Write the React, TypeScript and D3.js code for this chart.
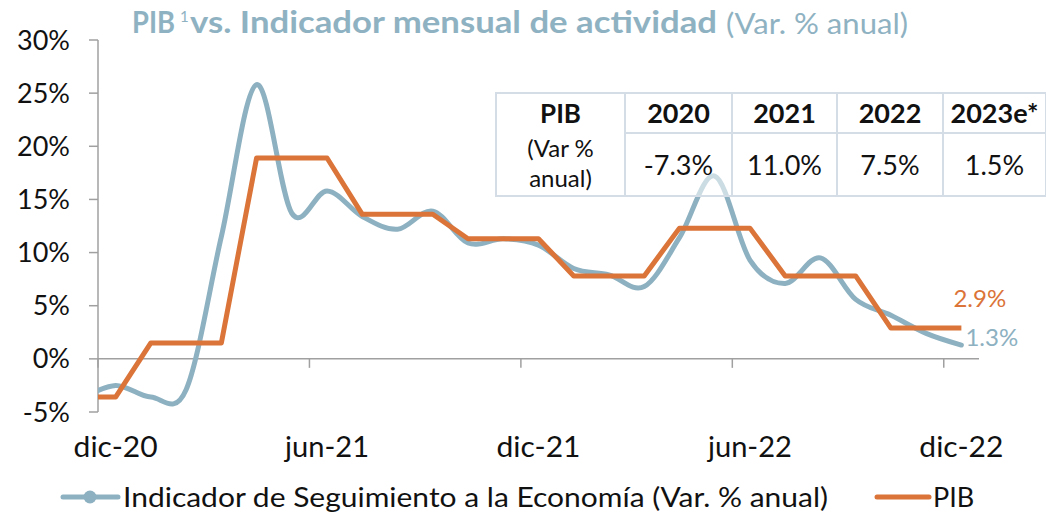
import React from 'react'
import * as d3 from 'd3'

// months shown on the axis (nov-20 is only there so the line enters from the left edge)
const months = [
    'nov-20', 'dic-20', 'ene-21', 'feb-21', 'mar-21', 'abr-21', 'may-21', 'jun-21', 'jul-21',
    'ago-21', 'sep-21', 'oct-21', 'nov-21', 'dic-21', 'ene-22', 'feb-22', 'mar-22', 'abr-22',
    'may-22', 'jun-22', 'jul-22', 'ago-22', 'sep-22', 'oct-22', 'nov-22', 'dic-22'
]
const iseValues = [
    -3.8, -2.5, -3.6, -2.9, 11.5, 25.8, 13.7, 15.8, 13.4,
    12.2, 13.9, 10.9, 11.3, 10.7, 8.5, 7.9, 6.8, 11.4,
    17.2, 9.3, 7.1, 9.5, 5.6, 4.1, 2.4, 1.3
]
const pibValues = [
    -3.6, -3.6, 1.5, 1.5, 1.5, 18.9, 18.9, 18.9, 13.6,
    13.6, 13.6, 11.3, 11.3, 11.3, 7.8, 7.8, 7.8, 12.3,
    12.3, 12.3, 7.8, 7.8, 7.8, 2.9, 2.9, 2.9
]
const xLabels = ['dic-20', 'jun-21', 'dic-21', 'jun-22', 'dic-22']
const yTicks = [-5, 0, 5, 10, 15, 20, 25, 30]

const tableYears = ['2020', '2021', '2022', '2023e*']
const tableValues = ['-7.3%', '11.0%', '7.5%', '1.5%']

const BLUE = '#8DB1C1'
const ORANGE = '#DB7439'
const AXIS = '#A0A0A0'
const FONT = 'Lato, "Open Sans", sans-serif'

type Pt = { i: number, v: number }

export default function App() {
    const margin = { left: 98, right: 979, top: 40, bottom: 412 }

    // index 0 = dic-20, each month is one band wide
    const x = d3.scaleLinear().domain([-0.5, 24.5]).range([margin.left, margin.right])
    const y = d3.scaleLinear().domain([-5, 30]).range([margin.bottom, margin.top])

    const ise: Pt[] = months.map((m, k) => ({ i: k - 1, v: iseValues[k] }))
    const pib: Pt[] = months.map((m, k) => ({ i: k - 1, v: pibValues[k] }))

    const smooth = d3.line<Pt>()
        .x((d) => x(d.i))
        .y((d) => y(d.v))
        .curve(d3.curveCardinal.tension(0))
    const straight = d3.line<Pt>()
        .x((d) => x(d.i))
        .y((d) => y(d.v))

    const labelIdx = xLabels.map((l) => months.indexOf(l) - 1)
    const last = ise[ise.length - 1]
    const lastPib = pib[pib.length - 1]

    // table layout
    const tX = [496, 625, 732, 837, 943, 1046]
    const tTop = 93
    const tMid = 133
    const tBottom = 196

    return (
        <svg width={1046} height={514} style={{ position: 'absolute', left: 0, top: 0 }}
            fontFamily={FONT}>
            <rect width={1046} height={514} fill="#fff" />
            <defs>
                <clipPath id="plot">
                    <rect x={margin.left} y={0} width={margin.right - margin.left + 4} height={514} />
                </clipPath>
            </defs>

            {/* Y axis */}
            <line x1={margin.left} x2={margin.left} y1={y(30)} y2={y(-5)} stroke={AXIS} strokeWidth={1.5} />
            {yTicks.map((t) => (
                <g key={t}>
                    <line x1={margin.left - 9} x2={margin.left} y1={y(t)} y2={y(t)} stroke={AXIS} strokeWidth={1.5} />
                    <text x={70} y={y(t) + 9.5} textAnchor="end" fontSize={27} fill="#111">{`${t}%`}</text>
                </g>
            ))}

            {/* X axis along 0% */}
            <line x1={margin.left} x2={margin.right} y1={y(0)} y2={y(0)} stroke={AXIS} strokeWidth={1.5} />
            {labelIdx.map((i, k) => (
                <g key={xLabels[k]}>
                    <line x1={x(i - 0.5)} x2={x(i - 0.5)} y1={y(0)} y2={y(0) + 9} stroke={AXIS} strokeWidth={1.5} />
                    <text x={x(i)} y={457} textAnchor="middle" fontSize={29} fill="#111"
                        textLength={84} lengthAdjust="spacingAndGlyphs">{xLabels[k]}</text>
                </g>
            ))}

            {/* series */}
            <g clipPath="url(#plot)">
                <path d={smooth(ise) || ''} fill="none" stroke={BLUE} strokeWidth={5} strokeLinecap="round" />
                <path d={straight(pib) || ''} fill="none" stroke={ORANGE} strokeWidth={5} strokeLinejoin="round" />
            </g>

            {/* PIB table */}
            <g>
                <rect x={tX[0]} y={tTop} width={tX[5] - tX[0]} height={tBottom - tTop}
                    fill="#fff" fillOpacity={0.55} stroke="#D4DCE5" strokeWidth={2} />
                <line x1={tX[1]} x2={tX[5]} y1={tMid} y2={tMid} stroke="#D4DCE5" strokeWidth={2} />
                {tX.slice(1, 5).map((cx) => (
                    <line key={cx} x1={cx} x2={cx} y1={tTop} y2={tBottom} stroke="#D4DCE5" strokeWidth={2} />
                ))}
                <text x={(tX[0] + tX[1]) / 2} y={123} textAnchor="middle" fontSize={26} fontWeight="bold" fill="#111">PIB</text>
                <text x={(tX[0] + tX[1]) / 2} y={157} textAnchor="middle" fontSize={24} fill="#111">(Var %</text>
                <text x={(tX[0] + tX[1]) / 2} y={187} textAnchor="middle" fontSize={24} fill="#111">anual)</text>
                {tableYears.map((yr, k) => (
                    <g key={yr}>
                        <text x={(tX[k + 1] + tX[k + 2]) / 2} y={123} textAnchor="middle" fontSize={27}
                            fontWeight="bold" fill="#111">{yr}</text>
                        <text x={(tX[k + 1] + tX[k + 2]) / 2} y={175} textAnchor="middle" fontSize={27}
                            fill="#111">{tableValues[k]}</text>
                    </g>
                ))}
            </g>

            {/* end labels */}
            <text x={x(lastPib.i) - 8} y={y(lastPib.v) - 21} fontSize={24} fill={ORANGE}>{`${lastPib.v.toFixed(1)}%`}</text>
            <text x={x(last.i) + 4} y={y(last.v) + 1} fontSize={24} fill={BLUE}>{`${last.v.toFixed(1)}%`}</text>

            {/* title */}
            <g fill="#8FB2C2">
                <text x={132} y={33} fontSize={31} fontWeight="bold" textLength={43} lengthAdjust="spacingAndGlyphs">PIB</text>
                <text x={180} y={22} fontSize={15}>1</text>
                <text x={190} y={33} fontSize={31} fontWeight="bold" textLength={527} lengthAdjust="spacingAndGlyphs">vs. Indicador mensual de actividad</text>
                <text x={726} y={34} fontSize={28} textLength={182} lengthAdjust="spacingAndGlyphs">(Var. % anual)</text>
            </g>

            {/* legend */}
            <line x1={63} x2={118} y1={497} y2={497} stroke={BLUE} strokeWidth={5} strokeLinecap="round" />
            <circle cx={90} cy={497} r={6.5} fill={BLUE} />
            <text x={123} y={507} fontSize={27} fill="#111" textLength={705} lengthAdjust="spacingAndGlyphs">
                Indicador de Seguimiento a la Economía (Var. % anual)
            </text>
            <line x1={877} x2={929} y1={497} y2={497} stroke={ORANGE} strokeWidth={5} strokeLinecap="round" />
            <text x={933} y={507} fontSize={27} fill="#111">PIB</text>
        </svg>
    )
}
